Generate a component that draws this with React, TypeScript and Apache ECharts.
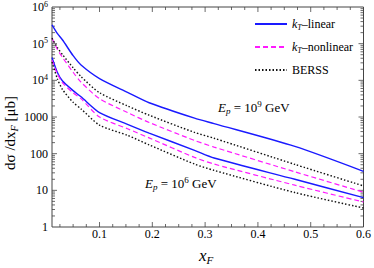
import React, { useEffect, useRef } from "react";
import * as echarts from "echarts";

// x_F sample points
const xF = [0.01, 0.02, 0.03, 0.05, 0.065, 0.1, 0.153, 0.194, 0.28, 0.317, 0.47, 0.6];

// Ep = 10^9 GeV
const linear9 = [324000, 190000, 126000, 47000, 26300, 11200, 4700, 2450, 930, 660, 158, 33];
const nonlinear9 = [141000, 71000, 42000, 16600, 8900, 3160, 1320, 710, 229, 151, 32, 8.9];
const berss9 = [141000, 79000, 50000, 22000, 12600, 4600, 2000, 1120, 380, 263, 51, 13.2];

// Ep = 10^6 GeV
const linear6 = [41700, 16600, 9550, 5250, 3550, 1320, 630, 363, 123, 76, 20, 6.3];
const nonlinear6 = [35500, 15100, 8500, 4570, 3160, 1000, 479, 269, 79, 52, 13.8, 4.8];
const berss6 = [31600, 11200, 5600, 2510, 1660, 600, 316, 174, 52, 35, 8.7, 3.3];

const xMajorTicks = [0.1, 0.2, 0.3, 0.4, 0.5, 0.6];
const xMinorTicks = [0.025, 0.05, 0.075, 0.125, 0.15, 0.175, 0.225, 0.25, 0.275, 0.325, 0.35, 0.375, 0.425, 0.45, 0.475, 0.525, 0.55, 0.575];
const yMajorTicks = [10, 100, 1000, 10000, 100000];
const yMinorMultipliers = [2, 3, 4, 5, 6, 7, 8, 9];
const yDecades = [1, 10, 100, 1000, 10000, 100000];

const FONT = "Liberation Serif";

export default function App() {
  const ref = useRef<HTMLDivElement>(null);
  useEffect(() => {
    if (!ref.current) return;
    const chart = echarts.init(ref.current, null, { renderer: "svg" });
    const pair = (ys: number[]) => xF.map((x, i) => [x, ys[i]]);

    const xTickData = [
      ...xMajorTicks.map((v) => [v, 1, 5]),
      ...xMinorTicks.map((v) => [v, 1, 3]),
    ];
    const yTickData: number[][] = [...yMajorTicks.map((v) => [0.3, v, 5])];
    yDecades.forEach((d) => yMinorMultipliers.forEach((m) => yTickData.push([0.3, d * m, 3])));

    const tickStyle = { stroke: "#444", lineWidth: 0.8 };

    const lineSeries = (name: string, data: number[], color: string, type: any, width: number) => ({
      name,
      type: "line",
      data: pair(data),
      showSymbol: false,
      symbol: "none",
      smooth: 0.25,
      lineStyle: { color, type, width },
      itemStyle: { color },
      silent: true,
      z: 3,
    });

    const BLUE = "#1a1aff";
    const MAG = "#ff1aff";
    const BLK = "#111";

    const richText = (base: number, sub: number) => ({
      i: { fontFamily: FONT, fontSize: base, fontStyle: "italic", fill: "#000", lineHeight: base + 3 },
      r: { fontFamily: FONT, fontSize: base, fill: "#000", lineHeight: base + 3 },
      s: { fontFamily: FONT, fontSize: sub, fontStyle: "italic", fill: "#000", verticalAlign: "bottom", lineHeight: sub + 1 },
      u: { fontFamily: FONT, fontSize: sub, fill: "#000", verticalAlign: "top", lineHeight: sub + 1 },
    });

    chart.setOption({
      animation: false,
      grid: { left: 52, right: 8, top: 7, bottom: 41, show: true, borderColor: "#444", borderWidth: 1, backgroundColor: "transparent" },
      xAxis: {
        type: "value",
        min: 0.01,
        max: 0.6,
        axisLine: { show: false },
        axisTick: { show: false },
        splitLine: { show: false },
        axisLabel: {
          customValues: xMajorTicks,
          fontFamily: FONT,
          fontSize: 12,
          color: "#000",
          margin: 1,
          formatter: (v: number) => String(Math.round(v * 10) / 10),
        },
      },
      yAxis: {
        type: "log",
        logBase: 10,
        min: 1,
        max: 1000000,
        axisLine: { show: false },
        axisTick: { show: false },
        splitLine: { show: false },
        minorTick: { show: false },
        axisLabel: {
          fontFamily: FONT,
          fontSize: 12,
          color: "#000",
          margin: 4,
          lineHeight: 14,
          formatter: (v: number) => {
            const e = Math.round(Math.log10(v));
            return e <= 3 ? String(Math.round(v)) : `10{s|${e}}`;
          },
          rich: {
            s: { fontFamily: FONT, fontSize: 8, verticalAlign: "top", lineHeight: 14, color: "#000" },
          },
        },
      },
      legend: {
        orient: "vertical",
        left: 249,
        top: 13,
        itemWidth: 32,
        itemHeight: 10,
        itemGap: 10,
        data: ["linear", "nonlinear", "BERSS"],
        itemStyle: { opacity: 0 },
        formatter: (n: string) => (n === "BERSS" ? "{r|BERSS}" : `{i|k}{s|T}{r|–${n}}`),
        textStyle: {
          fontFamily: FONT,
          fontSize: 12,
          color: "#000",
          rich: {
            r: { fontFamily: FONT, fontSize: 12, color: "#000", lineHeight: 14 },
            i: { fontFamily: FONT, fontSize: 12, fontStyle: "italic", color: "#000", lineHeight: 14 },
            s: { fontFamily: FONT, fontSize: 8, fontStyle: "italic", color: "#000", verticalAlign: "bottom", lineHeight: 9 },
          },
        },
      },
      graphic: [
        {
          type: "text",
          x: 10,
          y: 133,
          rotation: Math.PI / 2,
          style: {
            text: "{r|dσ /dx}{s|F}{r| [μb]}",
            align: "center",
            verticalAlign: "middle",
            fontFamily: FONT,
            fontSize: 15,
            fill: "#000",
            rich: richText(15, 10),
          },
        },
        {
          type: "text",
          x: 206,
          y: 255,
          style: {
            text: "{i|x}{s|F}",
            align: "center",
            verticalAlign: "middle",
            fontFamily: FONT,
            fontSize: 17,
            fill: "#000",
            rich: richText(17, 11),
          },
        },
        {
          type: "text",
          x: 218,
          y: 107,
          style: {
            text: "{i|E}{s|p}{r| = 10}{u|9}{r| GeV}",
            align: "left",
            verticalAlign: "middle",
            fontFamily: FONT,
            fontSize: 13,
            fill: "#000",
            rich: richText(13, 9),
          },
        },
        {
          type: "text",
          x: 145,
          y: 183,
          style: {
            text: "{i|E}{s|p}{r| = 10}{u|6}{r| GeV}",
            align: "left",
            verticalAlign: "middle",
            fontFamily: FONT,
            fontSize: 13,
            fill: "#000",
            rich: richText(13, 9),
          },
        },
      ],
      series: [
        lineSeries("linear", linear9, BLUE, "solid", 1.4),
        lineSeries("nonlinear", nonlinear9, MAG, [5, 3], 1.2),
        lineSeries("BERSS", berss9, BLK, [1.5, 2], 1.4),
        lineSeries("linear", linear6, BLUE, "solid", 1.4),
        lineSeries("nonlinear", nonlinear6, MAG, [5, 3], 1.2),
        lineSeries("BERSS", berss6, BLK, [1.5, 2], 1.4),
        {
          type: "custom",
          name: "xticks",
          silent: true,
          clip: false,
          data: xTickData,
          encode: { x: 0, y: 1 },
          renderItem: (params: any, api: any) => {
            const v = api.value(0);
            const len = api.value(2);
            const b = api.coord([v, 1]);
            const t = api.coord([v, 1000000]);
            return {
              type: "group",
              children: [
                { type: "line", shape: { x1: b[0], y1: b[1], x2: b[0], y2: b[1] - len }, style: tickStyle },
                { type: "line", shape: { x1: t[0], y1: t[1], x2: t[0], y2: t[1] + len }, style: tickStyle },
              ],
            };
          },
        },
        {
          type: "custom",
          name: "yticks",
          silent: true,
          clip: false,
          data: yTickData,
          encode: { x: 0, y: 1 },
          renderItem: (params: any, api: any) => {
            const v = api.value(1);
            const len = api.value(2);
            const l = api.coord([0.01, v]);
            const r = api.coord([0.6, v]);
            return {
              type: "group",
              children: [
                { type: "line", shape: { x1: l[0], y1: l[1], x2: l[0] + len, y2: l[1] }, style: tickStyle },
                { type: "line", shape: { x1: r[0], y1: r[1], x2: r[0] - len, y2: r[1] }, style: tickStyle },
              ],
            };
          },
        },
      ],
    });
    return () => chart.dispose();
  }, []);
  return <div ref={ref} style={{ width: 374, height: 268, position: "absolute", left: 0, top: 0 }} />;
}
